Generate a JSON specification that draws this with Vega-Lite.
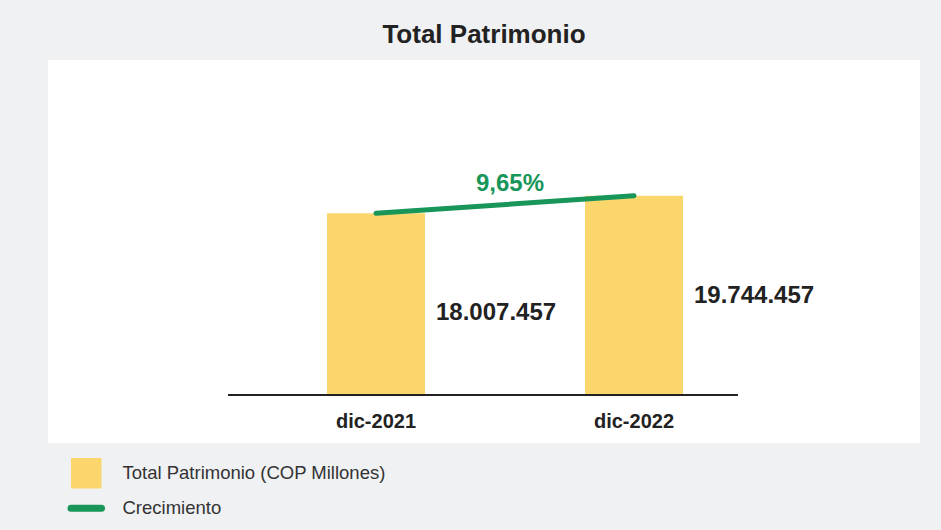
{
  "$schema": "https://vega.github.io/schema/vega-lite/v6.json",
  "autosize": {"type": "none"},
  "width": 872,
  "height": 383,
  "padding": {"left": 48, "top": 60, "right": 21, "bottom": 87},
  "background": "#F0F1F3",
  "config": {
    "view": {"fill": "#FFFFFF", "stroke": null},
    "font": "Liberation Sans"
  },
  "title": {
    "text": "Total Patrimonio",
    "font": "Liberation Sans",
    "fontSize": 26,
    "fontWeight": "bold",
    "color": "#222222",
    "anchor": "middle",
    "frame": "group",
    "baseline": "alphabetic",
    "offset": -9
  },
  "datasets": {
    "patrimonio": [
      {"periodo": "dic-2021", "valor": 18007457, "etiqueta": "18.007.457"},
      {"periodo": "dic-2022", "valor": 19744457, "etiqueta": "19.744.457"}
    ],
    "crecimiento": [
      {"desde": "dic-2021", "hasta": "dic-2022", "valor": 19744457, "texto": "9,65%"}
    ]
  },
  "layer": [
    {
      "data": {"name": "patrimonio"},
      "mark": {"type": "bar"},
      "encoding": {
        "x": {
          "field": "periodo", "type": "nominal", "sort": null,
          "scale": {"paddingInner": 0.6202, "paddingOuter": 1.0, "align": 0.5407},
          "axis": {
            "title": null, "domain": false, "ticks": false, "tickSize": 0,
            "labelAngle": 0, "labelFont": "Liberation Sans", "labelFontSize": 20,
            "labelFontWeight": "bold", "labelColor": "#222222",
            "labelBaseline": "alphabetic", "labelPadding": 32, "offset": -48,
            "grid": false
          }
        },
        "y": {
          "field": "valor", "type": "quantitative",
          "scale": {"domain": [-4755840, 33191800], "nice": false, "zero": false},
          "axis": null
        },
        "color": {
          "datum": "Total Patrimonio (COP Millones)",
          "scale": {
            "domain": ["Total Patrimonio (COP Millones)", "Crecimiento"],
            "range": ["#FAD66C", "#18965A"]
          },
          "legend": {
            "title": null,
            "orient": "none",
            "legendX": 29,
            "legendY": 404,
            "direction": "vertical",
            "padding": 0,
            "symbolSize": 930,
            "rowPadding": 5,
            "labelOffset": 27,
            "labelFont": "Liberation Sans",
            "labelFontSize": 18.5,
            "labelColor": "#333333",
            "labelLimit": 400,
            "encode": {
              "symbols": {
                "update": {
                  "shape": {"signal": "datum.value === 'Crecimiento' ? 'stroke' : 'square'"},
                  "fill": {"signal": "datum.value === 'Crecimiento' ? 'transparent' : '#FAD66C'"},
                  "stroke": {"signal": "datum.value === 'Crecimiento' ? '#18965A' : 'transparent'"},
                  "strokeWidth": {"signal": "datum.value === 'Crecimiento' ? 7 : 0"},
                  "strokeCap": {"value": "round"},
                  "opacity": {"value": 1},
                  "fillOpacity": {"value": 1},
                  "strokeOpacity": {"value": 1}
                }
              }
            }
          }
        }
      }
    },
    {
      "data": {"name": "crecimiento"},
      "mark": {"type": "rule", "color": "#222222", "strokeWidth": 2},
      "encoding": {
        "x": {"field": "desde", "type": "nominal", "bandPosition": -1.0102},
        "x2": {"field": "hasta", "bandPosition": 1.561},
        "y": {"datum": 0}
      }
    },
    {
      "data": {"name": "patrimonio"},
      "mark": {"type": "line", "strokeWidth": 5, "strokeCap": "round"},
      "encoding": {
        "x": {"field": "periodo", "type": "nominal", "sort": null},
        "y": {"field": "valor", "type": "quantitative"},
        "color": {"datum": "Crecimiento"}
      }
    },
    {
      "data": {"name": "patrimonio"},
      "mark": {
        "type": "text", "align": "left", "baseline": "middle", "dx": 11, "dy": 100,
        "font": "Liberation Sans", "fontSize": 24, "fontWeight": "bold", "color": "#222222"
      },
      "encoding": {
        "x": {"field": "periodo", "type": "nominal", "sort": null, "bandPosition": 1},
        "y": {"field": "valor", "type": "quantitative"},
        "text": {"field": "etiqueta"}
      }
    },
    {
      "data": {"name": "crecimiento"},
      "mark": {
        "type": "text", "align": "center", "baseline": "alphabetic", "dy": -5,
        "font": "Liberation Sans", "fontSize": 24, "fontWeight": "bold", "color": "#18965A"
      },
      "encoding": {
        "x": {"field": "desde", "type": "nominal", "bandPosition": 1.867},
        "y": {"field": "valor", "type": "quantitative"},
        "text": {"field": "texto"}
      }
    }
  ]
}
